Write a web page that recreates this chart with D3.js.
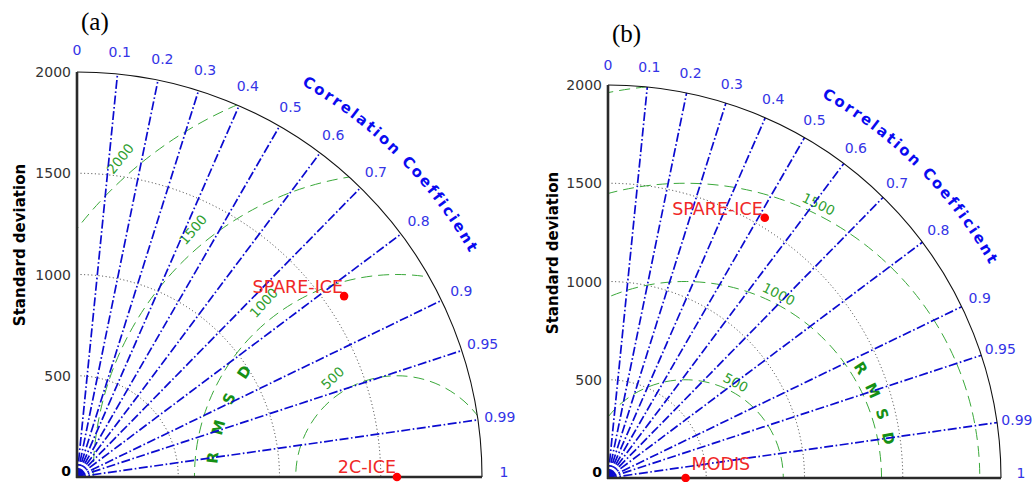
<!DOCTYPE html>
<html><head><meta charset="utf-8">
<script src="https://cdn.jsdelivr.net/npm/d3@7"></script>
<style>body{margin:0;background:#fff}svg{display:block}text{font-family:"DejaVu Sans",sans-serif}</style>
</head><body><svg id="c" width="1032" height="482"></svg>
<script>
// ---- data ----
const stdMax = 2000;
const stdTicks = [0, 500, 1000, 1500, 2000];
const stdGrid = [500, 1000, 1500];
const corrTicks = [0, 0.1, 0.2, 0.3, 0.4, 0.5, 0.6, 0.7, 0.8, 0.9, 0.95, 0.99, 1];
const corrLines = [0.1, 0.2, 0.3, 0.4, 0.5, 0.6, 0.7, 0.8, 0.9, 0.95, 0.99];
const rmsLevels = [500, 1000, 1500, 2000];
const panelLetters = ["(a)", "(b)"];
const refStdA = 1580, refStdB = 392;
const namesA = ["SPARE-ICE", "2C-ICE"];
const stdA = [1593, 1580];
const corrA = [0.828, 1.0];
const namesB = ["SPARE-ICE", "MODIS"];
const stdB = [1546, 395];
const corrB = [0.516, 1.0];
const axisTitle = "Standard deviation";
const corrTitle = "Correlation Coefficient";
const rmsTitle = ["R", "M", "S", "D"];

// ---- layout ----
const layouts = [
  {ox:77, oy:477, R:405, letterX:81, letterY:30, titleX:25, titleY:245, tickOff:22, ccR:452,
   rmsLabAng:[123,127.4,129.5,131], rmsLabOff:17, rmsLabRot:-10, rmsdR:914, rmsdAng:[174,164.5,155,145.5],
   lab:[{a:"end",dx:-1,dy:-3},{a:"end",dx:-1,dy:-4}], ref:refStdA, names:namesA, std:stdA, corr:corrA},
  {ox:608, oy:478, R:393, letterX:612, letterY:42, titleX:558, titleY:253, tickOff:20, ccR:437,
   rmsLabAng:[62,63,64,65], rmsLabOff:10, rmsLabRot:0, rmsdR:1053, rmsdAng:[32,25,18,11],
   lab:[{a:"end",dx:-2,dy:-3},{a:"start",dx:6,dy:-8}], ref:refStdB, names:namesB, std:stdB, corr:corrB}
];

const svg = d3.select("#c");
const rad = d => d * Math.PI / 180;

// measure character widths of the arc title
const ccFont = 15, ccSpacing = 2.2;
const meas = svg.append("text").attr("font-weight", "bold").attr("font-size", ccFont);
const charW = Array.from(corrTitle).map(ch => {
  meas.text(ch === " " ? "\u00a0" : ch);
  return meas.node().getComputedTextLength();
});
meas.remove();

layouts.forEach((L, pi) => {
  const g = svg.append("g");
  const r = d3.scaleLinear().domain([0, stdMax]).range([0, L.R]);
  const P = (s, c) => { const t = Math.acos(Math.min(1, c)); return [L.ox + r(s) * Math.cos(t), L.oy - r(s) * Math.sin(t)]; };
  const quarter = rr => `M${L.ox},${L.oy - rr}A${rr},${rr} 0 0 1 ${L.ox + rr},${L.oy}`;

  // clip
  const cid = "clip" + pi;
  svg.append("clipPath").attr("id", cid).append("path")
    .attr("d", `M${L.ox},${L.oy}L${L.ox},${L.oy - L.R}A${L.R},${L.R} 0 0 1 ${L.ox + L.R},${L.oy}Z`);

  // std dotted circles
  g.selectAll(".sg").data(stdGrid).enter().append("path")
    .attr("d", d => quarter(r(d))).attr("fill", "none").attr("stroke", "#222")
    .attr("stroke-width", 0.9).attr("stroke-dasharray", "1,2.6");

  // RMSD circles
  const cx = L.ox + r(L.ref);
  const gc = g.append("g").attr("clip-path", `url(#${cid})`);
  gc.selectAll(".rc").data(rmsLevels).enter().append("circle")
    .attr("cx", cx).attr("cy", L.oy).attr("r", d => r(d))
    .attr("fill", "none").attr("stroke", "#3aa83a").attr("stroke-width", 1)
    .attr("stroke-dasharray", "11,6");

  // RMSD labels
  rmsLevels.forEach((lv, i) => {
    const th = rad(L.rmsLabAng[i]);
    const rr = r(lv) + L.rmsLabOff;
    const x = cx + rr * Math.cos(th), y = L.oy - rr * Math.sin(th);
    if (Math.hypot(x - L.ox, L.oy - y) > L.R - 8) return;
    g.append("text").attr("x", x).attr("y", y)
      .attr("transform", `rotate(${90 - L.rmsLabAng[i] + L.rmsLabRot},${x},${y})`)
      .attr("text-anchor", "middle").attr("dominant-baseline", "central")
      .attr("fill", "#2e9e2e").attr("font-size", 13.5).text(lv);
  });

  // RMSD title letters
  rmsTitle.forEach((ch, i) => {
    const th = rad(L.rmsdAng[i]);
    const rr = r(L.rmsdR);
    const x = cx + rr * Math.cos(th), y = L.oy - rr * Math.sin(th);
    g.append("text").attr("x", x).attr("y", y)
      .attr("transform", `rotate(${90 - L.rmsdAng[i]},${x},${y})`)
      .attr("text-anchor", "middle").attr("dominant-baseline", "central")
      .attr("fill", "#159015").attr("font-weight", "bold").attr("font-size", 15).text(ch);
  });

  // correlation lines
  g.selectAll(".cl").data(corrLines).enter().append("line")
    .attr("x1", L.ox).attr("y1", L.oy)
    .attr("x2", d => P(stdMax, d)[0]).attr("y2", d => P(stdMax, d)[1])
    .attr("stroke", "#0b0bd0").attr("stroke-width", 1.7)
    .attr("stroke-dasharray", "9,2.5,1.6,2.5");

  // outer arc
  g.append("path").attr("d", quarter(L.R)).attr("fill", "none").attr("stroke", "#111").attr("stroke-width", 1.1);

  // axes
  g.append("line").attr("x1", L.ox).attr("y1", L.oy + 1).attr("x2", L.ox).attr("y2", L.oy - L.R)
    .attr("stroke", "#2a2a2a").attr("stroke-width", 2.6);
  g.append("line").attr("x1", L.ox - 1).attr("y1", L.oy).attr("x2", L.ox + L.R).attr("y2", L.oy)
    .attr("stroke", "#2a2a2a").attr("stroke-width", 2.6);

  // std tick labels
  g.selectAll(".st").data(stdTicks).enter().append("text")
    .attr("x", L.ox - 6).attr("y", d => L.oy - r(d) - (d === 0 ? 6 : 0))
    .attr("text-anchor", "end").attr("dominant-baseline", "central")
    .attr("fill", d => d === 0 ? "#000" : "#333").attr("font-size", 14)
    .attr("font-weight", d => d === 0 ? "bold" : "normal")
    .text(d => d);

  // corr tick labels
  g.selectAll(".ct").data(corrTicks).enter().append("text")
    .attr("x", d => { const t = Math.acos(d); return L.ox + (L.R + L.tickOff) * Math.cos(t); })
    .attr("y", d => { const t = Math.acos(d); return L.oy - (L.R + L.tickOff) * Math.sin(t) - (d === 1 ? 5 : 0); })
    .attr("text-anchor", "middle").attr("dominant-baseline", "central")
    .attr("fill", "#3434e6").attr("font-size", 14).text(d => d);

  // Correlation Coefficient title, letter by letter along an arc centred at 45 deg
  const adv = charW.map(w => w + ccSpacing);
  const total = d3.sum(adv) - ccSpacing;
  let s = -total / 2;
  const gt = g.append("g");
  Array.from(corrTitle).forEach((ch, i) => {
    const mid = s + charW[i] / 2;
    s += adv[i];
    if (ch === " ") return;
    const thDeg = 45 - (mid / L.ccR) * 180 / Math.PI;
    const th = rad(thDeg);
    const x = L.ox + L.ccR * Math.cos(th), y = L.oy - L.ccR * Math.sin(th);
    gt.append("text").attr("x", x).attr("y", y)
      .attr("transform", `rotate(${90 - thDeg},${x},${y})`)
      .attr("text-anchor", "middle")
      .attr("fill", "#0a0af0").attr("font-weight", "bold").attr("font-size", ccFont).text(ch);
  });

  // axis title
  g.append("text").attr("transform", `translate(${L.titleX},${L.titleY}) rotate(-90)`)
    .attr("text-anchor", "middle").attr("font-weight", "bold").attr("font-size", 15).attr("fill", "#000")
    .text(axisTitle);

  // panel letter
  g.append("text").attr("x", L.letterX).attr("y", L.letterY)
    .style("font-family", '"Liberation Serif","Times New Roman",serif').attr("font-size", 25).attr("fill", "#000")
    .text(panelLetters[pi]);

  // points
  L.names.forEach((n, i) => {
    const [x, y] = P(L.std[i], L.corr[i]);
    g.append("text").attr("x", x + L.lab[i].dx).attr("y", y + L.lab[i].dy)
      .attr("text-anchor", L.lab[i].a).attr("fill", "#f02828").attr("font-size", 17.5).text(n);
    g.append("circle").attr("cx", x).attr("cy", y).attr("r", 4.3).attr("fill", "#ff0000");
  });
});
</script></body></html>
